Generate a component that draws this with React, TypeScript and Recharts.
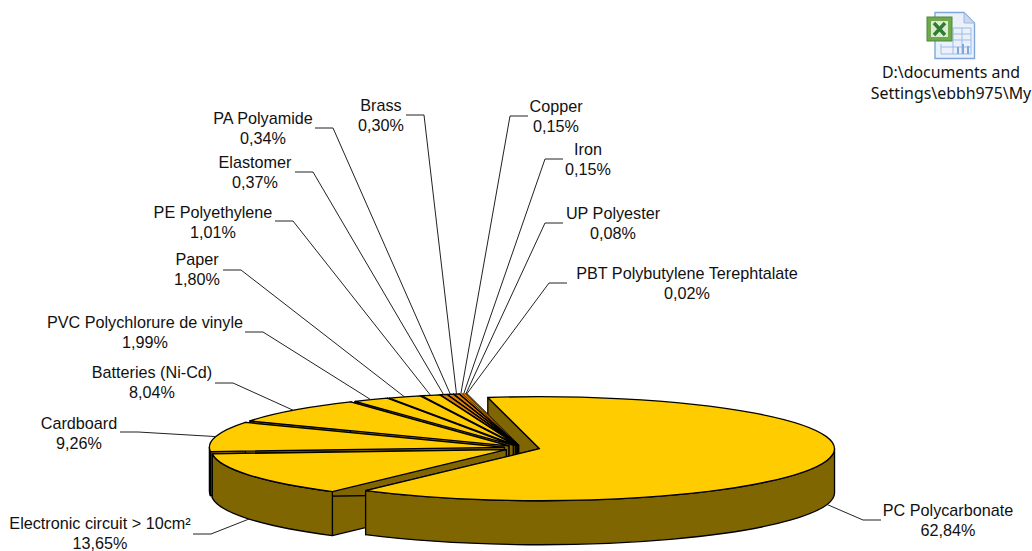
import React from 'react';
import { PieChart, Pie } from 'recharts';

// Drawn back-to-front so that nearer slices paint over farther ones.
const names = [
  'PBT Polybutylene Terephtalate', 'UP Polyester', 'Iron', 'Copper', 'Brass', 'PA Polyamide',
  'Elastomer', 'PE Polyethylene', 'Paper', 'PVC Polychlorure de vinyle', 'Batteries (Ni-Cd)',
  'Cardboard', 'Electronic circuit > 10cm²', 'PC Polycarbonate',
];
const shares = [0.02, 0.08, 0.15, 0.15, 0.30, 0.34, 0.37, 1.01, 1.80, 1.99, 8.04, 9.26, 13.65, 62.84];
const faceColors = ['#E08000', '#E08000', '#E08000', '#E08000', '#E08000', '#E08000', '#E08000', '#FFCC00', '#FFCC00', '#FFCC00', '#FFCC00', '#FFCC00', '#FFCC00', '#FFCC00'];
const wallColor = '#806600';

// Label layout: text centre x, first baseline y, elbow start x, elbow end x, elbow y
const labelLayout = [
  [687, 279, 567, 549, 283],
  [613, 219, 563, 545, 223],
  [588, 155, 563, 545, 159],
  [556, 112, 528, 510, 116],
  [381, 111, 406, 424, 115],
  [263, 124, 315, 333, 128],
  [255, 168, 295, 313, 172],
  [213, 218, 275, 293, 221],
  [197, 265, 223, 241, 270],
  [145, 328, 245, 263, 332],
  [152, 378, 215, 233, 383],
  [79, 429, 120, 138, 432],
  [100, 529, 193, 211, 534],
  [948, 516, 881, 863, 520],
];

const CX = 522;
const CY = 448;
const R = 295;
const SQUASH = 52 / 295;
const DEPTH = 44;
const EXPLODE = 18;
const rad = (d: number) => (d * Math.PI) / 180;

const apexOf = (mid: number) => ({
  x: CX + EXPLODE * Math.cos(rad(mid)),
  y: CY - EXPLODE * SQUASH * Math.sin(rad(mid)),
});
const rimOf = (apex: { x: number; y: number }, a: number, dy = 0) => ({
  x: apex.x + R * Math.cos(rad(a)),
  y: apex.y - R * SQUASH * Math.sin(rad(a)) + dy,
});
const P = (p: { x: number; y: number }) => `${p.x.toFixed(2)} ${p.y.toFixed(2)}`;

const edgeStyle = (sweep: number) => ({
  stroke: '#000',
  strokeWidth: sweep < 1 ? 0.35 : 1.3,
  strokeLinejoin: 'round' as const,
});

// The far cut face of the big reflex slice sits behind every other slice.
function FarWall(props: any) {
  const { startAngle, endAngle, midAngle } = props;
  const lo = Math.min(startAngle, endAngle);
  const hi = Math.max(startAngle, endAngle);
  if (hi - lo <= 180) return <g />;
  const apex = apexOf(midAngle);
  const low = { x: apex.x, y: apex.y + DEPTH };
  return (
    <path
      d={`M${P(apex)}L${P(rimOf(apex, hi))}L${P(rimOf(apex, hi, DEPTH))}L${P(low)}Z`}
      fill={wallColor}
      {...edgeStyle(hi - lo)}
    />
  );
}

function Slice3D(props: any) {
  const { startAngle, endAngle, midAngle, fill } = props;
  const lo = Math.min(startAngle, endAngle);
  const hi = Math.max(startAngle, endAngle);
  const apex = apexOf(midAngle);
  const low = { x: apex.x, y: apex.y + DEPTH };
  const a = rimOf(apex, lo);
  const b = rimOf(apex, hi);
  const reflex = hi - lo > 180;
  const rx = R;
  const ry = R * SQUASH;
  const common = edgeStyle(hi - lo);
  const f0 = Math.max(lo, 180);
  const f1 = Math.min(hi, 360);
  return (
    <g>
      {!reflex && (
        <path d={`M${P(apex)}L${P(b)}L${P(rimOf(apex, hi, DEPTH))}L${P(low)}Z`} fill={wallColor} {...common} />
      )}
      <path d={`M${P(apex)}L${P(a)}L${P(rimOf(apex, lo, DEPTH))}L${P(low)}Z`} fill={wallColor} {...common} />
      {f0 < f1 && (
        <path
          d={`M${P(rimOf(apex, f0))}A${rx} ${ry} 0 0 0 ${P(rimOf(apex, f1))}L${P(rimOf(apex, f1, DEPTH))}A${rx} ${ry} 0 0 1 ${P(rimOf(apex, f0, DEPTH))}Z`}
          fill={wallColor}
          {...common}
        />
      )}
      <path d={`M${P(apex)}L${P(a)}A${rx} ${ry} 0 ${reflex ? 1 : 0} 0 ${P(b)}Z`} fill={fill} {...common} />
    </g>
  );
}

const fmt = (v: number) => `${v.toFixed(2).replace('.', ',')}%`;

function SliceLabel(props: any) {
  const [tx, ty] = labelLayout[props.index];
  return (
    <text textAnchor="middle" fontFamily="Liberation Sans" fontSize={16.2} fill="#111">
      <tspan x={tx} y={ty}>{props.name}</tspan>
      <tspan x={tx} y={ty + 20}>{fmt(props.value)}</tspan>
    </text>
  );
}

function SliceLine(props: any) {
  const [, , ex0, ex1, ey] = labelLayout[props.index];
  const mid = props.midAngle;
  const apex = apexOf(mid);
  const front = Math.sin(rad(mid)) < 0;
  const end = rimOf(apex, mid, front ? DEPTH : 0);
  return (
    <path
      d={`M${ex0} ${ey}L${ex1} ${ey}L${P(end)}`}
      fill="none"
      stroke="#222"
      strokeWidth={1}
    />
  );
}

const data = names.map((name, i) => ({ name, value: shares[i], fill: faceColors[i] }));

function FileIcon() {
  return (
    <svg width={52} height={50} viewBox="0 0 52 50" style={{ position: 'absolute', left: 925, top: 11 }}>
      <path d="M10 1.5H39L49.5 12V47.5H10Z" fill="#EAF1FB" stroke="#7FA7DC" strokeWidth={1.4} />
      <path d="M39 1.5V12H49.5Z" fill="#C9D9EF" stroke="#9DB9E0" strokeWidth={1} />
      <g stroke="#9DBBE6" strokeWidth={1} fill="none">
        <path d="M28 17H46V43H16V33M28 17V43M37 17V43M28 23H46M28 29H46M16 36H46" />
      </g>
      <g fill="#7FA7DC">
        <rect x={32} y={36} width={2} height={7} />
        <rect x={37} y={33} width={2} height={10} />
        <rect x={42} y={35} width={2} height={8} />
      </g>
      <rect x={2} y={6} width={25} height={24} fill="#6FA84F" stroke="#4C8A38" strokeWidth={1} />
      <rect x={6} y={10} width={17} height={16} fill="#DDEBCF" />
      <path d="M9 12L20 24M20 12L9 24" stroke="#2F7D32" strokeWidth={3.4} />
    </svg>
  );
}

export default function App() {
  return (
    <div style={{ position: 'absolute', left: 0, top: 0, width: 1032, height: 551, overflow: 'hidden', background: '#fff' }}>
      <PieChart width={1032} height={551} margin={{ top: 0, right: 0, bottom: 0, left: 0 }}>
        <Pie
          data={data}
          dataKey="value"
          nameKey="name"
          cx={CX}
          cy={CY}
          outerRadius={R}
          startAngle={100.1}
          endAngle={460.1}
          stroke="none"
          isAnimationActive={false}
          shape={FarWall}
          label={false}
          labelLine={false}
        />
        <Pie
          data={data}
          dataKey="value"
          nameKey="name"
          cx={CX}
          cy={CY}
          outerRadius={R}
          startAngle={100.1}
          endAngle={460.1}
          stroke="none"
          isAnimationActive={false}
          shape={Slice3D}
          label={SliceLabel}
          labelLine={SliceLine}
        />
      </PieChart>
      <FileIcon />
      <div
        style={{
          position: 'absolute',
          left: 865,
          width: 172,
          top: 62,
          textAlign: 'center',
          fontFamily: '"Noto Sans"',
          fontSize: 15.9,
          lineHeight: '21px',
          color: '#111',
          whiteSpace: 'nowrap',
        }}
      >
        D:\documents and
        <br />
        Settings\ebbh975\My
      </div>
    </div>
  );
}
